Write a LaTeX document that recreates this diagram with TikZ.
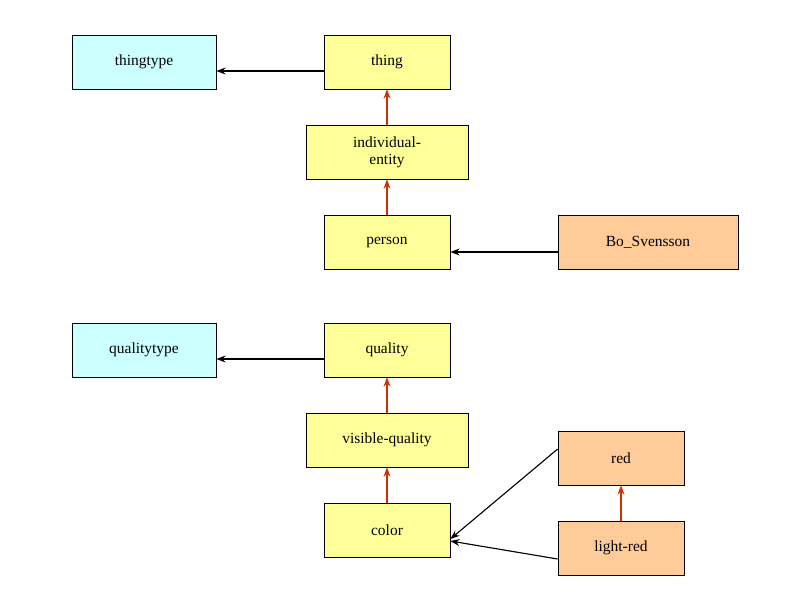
\documentclass[tikz,border=0pt]{standalone}
\usepackage{fontspec}
\setmainfont{Liberation Serif}
\usetikzlibrary{arrows.meta}
\definecolor{typecyan}{HTML}{CCFFFF}
\definecolor{catyellow}{HTML}{FFFF99}
\definecolor{instorange}{HTML}{FFCC99}
\definecolor{isared}{HTML}{CC3300}
\begin{document}
\begin{tikzpicture}[x=0.025cm,y=-0.025cm,>=Stealth,thick,
    box/.style={draw,line width=0.5pt,inner sep=0pt,font=\fontsize{11}{12}\selectfont,align=center},
    small box/.style={box,minimum width=126*0.025cm,minimum height=54*0.025cm},
    wide box/.style={box,minimum width=144*0.025cm,minimum height=54*0.025cm},
    big box/.style={box,minimum width=162*0.025cm,minimum height=54*0.025cm},
    inst box/.style={box,minimum width=180*0.025cm,minimum height=54*0.025cm},
    isa/.style={->,isared,line width=0.8pt},
    inst/.style={->,black,line width=0.8pt}]
    \useasboundingbox (0,0) rectangle (794,595);
    \node[wide box,fill=typecyan] (thingtype) at (144,62) {thingtype};
    \node[small box,fill=catyellow] (thing) at (387,62) {thing};
    \node[big box,fill=catyellow] (indiv) at (387,152) {individual-\\entity};
    \node[small box,fill=catyellow] (person) at (387,242) {person};
    \node[inst box,fill=instorange] (bo) at (648,242) {Bo\_Svensson};
    \node[wide box,fill=typecyan] (qualitytype) at (144,350) {qualitytype};
    \node[small box,fill=catyellow] (quality) at (387,350) {quality};
    \node[big box,fill=catyellow] (visible) at (387,440) {visible-quality};
    \node[small box,fill=instorange] (red) at (621,458) {red};
    \node[small box,fill=catyellow] (color) at (387,530) {color};
    \node[small box,fill=instorange] (lightred) at (621,548) {light-red};

    \draw[inst] ([yshift=-9*0.025cm]thing.west) -- ([yshift=-9*0.025cm]thingtype.east);
    \draw[isa] (indiv) -- (thing);
    \draw[isa] (person) -- (indiv);
    \draw[inst] ([yshift=-10*0.025cm]bo.west) -- ([yshift=-10*0.025cm]person.east);
    \draw[inst] ([yshift=-9*0.025cm]quality.west) -- ([yshift=-9*0.025cm]qualitytype.east);
    \draw[isa] (visible) -- (quality);
    \draw[isa] (color) -- (visible);
    \draw[isa] (lightred) -- (red);
    \draw[inst] ([yshift=9*0.025cm]red.west) -- ([yshift=-9*0.025cm]color.east);
    \draw[inst] ([yshift=-11*0.025cm]lightred.west) -- ([yshift=-11*0.025cm]color.east);
\end{tikzpicture}
\end{document}
